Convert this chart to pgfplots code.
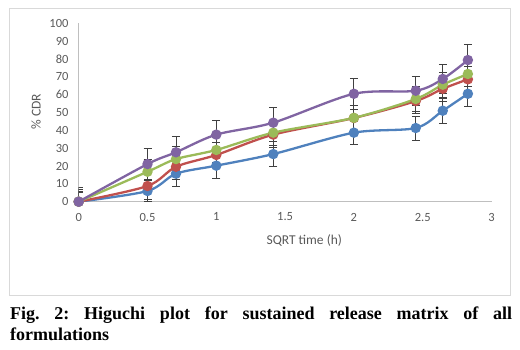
\documentclass[border=0pt]{standalone}
\usepackage{pgfplots}
\pgfplotsset{compat=1.18}
\usepackage{fontspec}
\setmainfont{Liberation Serif}
\newfontfamily\calibri{Carlito}
\definecolor{sblue}{HTML}{4F81BD}
\definecolor{sred}{HTML}{C0504D}
\definecolor{sgreen}{HTML}{9BBB59}
\definecolor{spurple}{HTML}{8064A2}
\definecolor{txtgray}{HTML}{595959}
\definecolor{axgray}{HTML}{BFBFBF}
\definecolor{framegray}{HTML}{D9D9D9}
\definecolor{errgray}{HTML}{404040}
\frenchspacing
\begin{document}
\begin{tikzpicture}
\path[use as bounding box] (0,0) rectangle (520pt,349pt);
\draw[framegray, line width=0.8pt] (9.5pt,54pt) rectangle (510pt,340.7pt);
\begin{axis}[
  at={(78.7pt,147.3pt)}, anchor=south west,
  scale only axis, width=412.8pt, height=178.4pt,
  xmin=0, xmax=3, ymin=0, ymax=100,
  axis lines=left, axis line style={axgray, line width=0.8pt, -},
  xtick={0,0.5,...,3}, ytick={0,10,...,100},
  major tick length=0pt,
  tick label style={font=\calibri\fontsize{12.5}{14}\selectfont, text=txtgray},
  /pgf/number format/assume math mode=true,
  xticklabel style={inner sep=0pt, anchor=north, yshift=-11pt},
  yticklabel style={inner sep=0pt, anchor=east, xshift=-10pt},
  clip=true,
  every axis plot/.append style={line width=2.3pt, smooth, tension=0.5, mark=*, mark size=4pt,
    error bars/y dir=both, error bars/y explicit,
    error bars/error bar style={errgray, line width=0.9pt},
    error bars/error mark options={errgray, rotate=90, mark size=4pt, line width=0.9pt}},
]
\addplot[color=sblue, mark options={fill=sblue, draw=sblue}] table[x=x, y=y, y error=e] {
x y e
0 0 7
0.5 6.0 6
0.7071 15.7 6.9
1 20.2 7.1
1.4142 26.7 6.9
2 38.7 6.5
2.4495 41.3 6.7
2.6458 51.0 6.9
2.8284 60.5 6.9
};
\addplot[color=sred, mark options={fill=sred, draw=sred}] table[x=x, y=y, y error=e] {
x y e
0 0 8
0.5 8.8 7.3
0.7071 19.6 7
1 26.2 7
1.4142 37.6 7
2 46.9 7
2.4495 56.4 7
2.6458 63.3 7
2.8284 68.6 7
};
\addplot[color=sgreen, mark options={fill=sgreen, draw=sgreen}] table[x=x, y=y, y error=e] {
x y e
0 0 6
0.5 16.8 7
0.7071 23.9 7
1 29.0 7
1.4142 38.7 7
2 47.0 7
2.4495 57.6 7
2.6458 65.6 7
2.8284 71.6 7
};
\addplot[color=spurple, mark options={fill=spurple, draw=spurple}] table[x=x, y=y, y error=e] {
x y e
0 0 5
0.5 21.1 8.8
0.7071 27.7 8.9
1 37.6 7.8
1.4142 44.3 8.4
2 60.5 8.7
2.4495 62.2 8.1
2.6458 68.8 8.2
2.8284 79.4 8.6
};
\end{axis}
\node[text=txtgray, font=\calibri\fontsize{13.5}{16}\selectfont, inner sep=0pt] at (304.3pt,109pt) {SQRT time (h)};
\node[text=txtgray, font=\calibri\fontsize{13.5}{16}\selectfont, inner sep=0pt, rotate=90] at (36pt,237.3pt) {\% CDR};
\node[anchor=base west, inner sep=0pt, font=\bfseries\fontsize{18}{20}\selectfont] at (10pt,29.3pt)
  {\makebox[502pt][s]{Fig. 2: Higuchi plot for sustained release matrix of all}};
\node[anchor=base west, inner sep=0pt, font=\bfseries\fontsize{18}{20}\selectfont] at (10pt,8.3pt) {formulations};
\end{tikzpicture}
\end{document}
